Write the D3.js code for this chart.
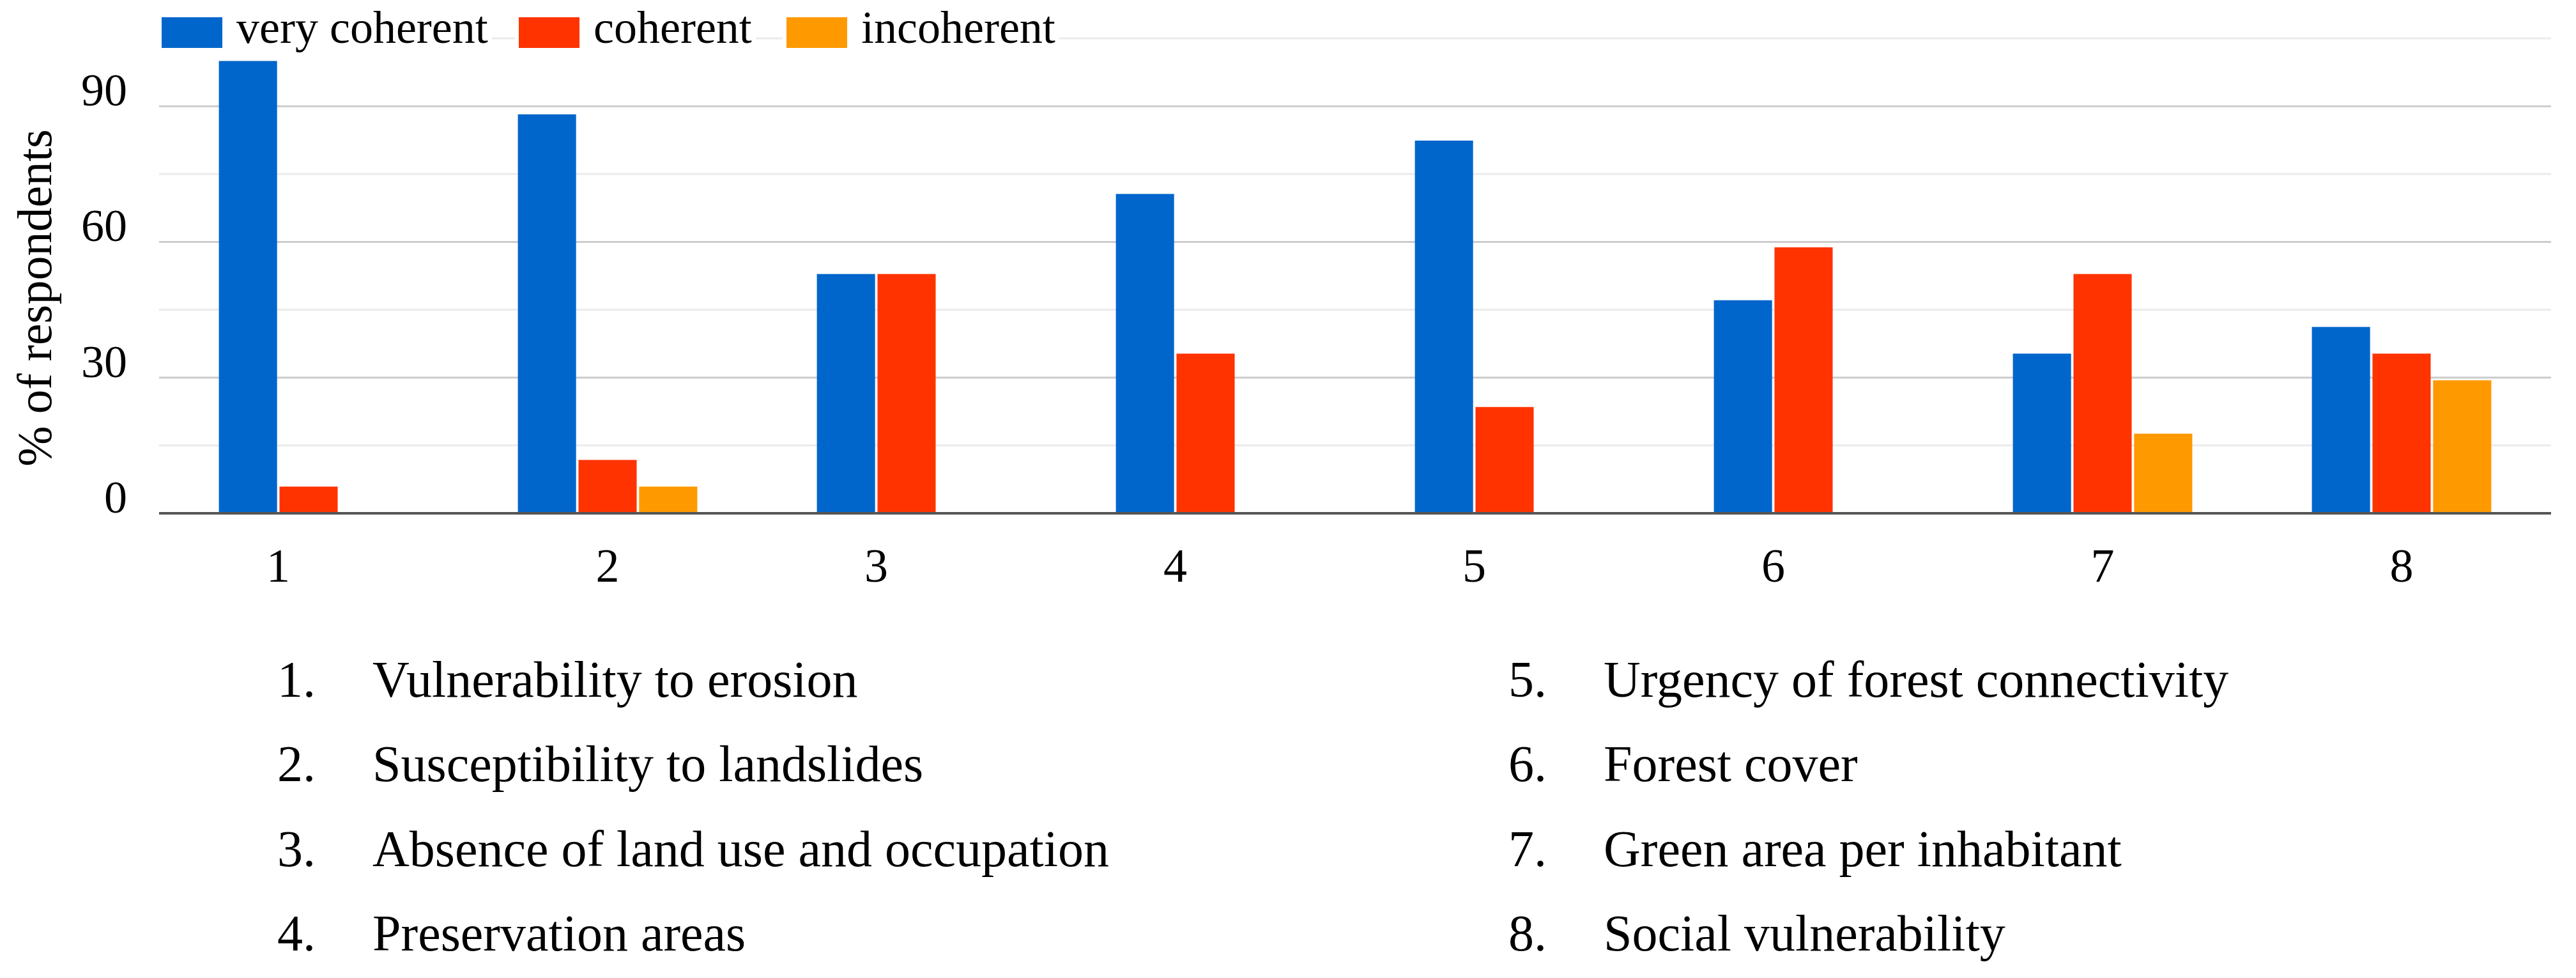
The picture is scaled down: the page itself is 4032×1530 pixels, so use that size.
<!DOCTYPE html>
<html>
<head>
<meta charset="utf-8">
<script src="https://cdn.jsdelivr.net/npm/d3@7"></script>
<style>
  body { margin: 0; background: #fff; }
  svg { display: block; }
  text { font-family: "Liberation Serif", "Times New Roman", serif; fill: #000; }
</style>
</head>
<body>
<div id="chart"></div>
<script>
// criteria numbers on the x axis
const categories = ["1", "2", "3", "4", "5", "6", "7", "8"];
const seriesNames = ["very coherent", "coherent", "incoherent"];

// % of respondents
const veryCoherent = [100, 88.2, 52.9, 70.6, 82.4, 47.1, 35.3, 41.2];
const coherent     = [5.9, 11.8, 52.9, 35.3, 23.5, 58.8, 52.9, 35.3];
const incoherent   = [0, 5.9, 0, 0, 0, 0, 17.6, 29.4];

const majorTicks = [0, 30, 60, 90];
const minorTicks = [15, 45, 75, 105];

const criteria = [
  "Vulnerability to erosion",
  "Susceptibility to landslides",
  "Absence of land use and occupation",
  "Preservation areas",
  "Urgency of forest connectivity",
  "Forest cover",
  "Green area per inhabitant",
  "Social vulnerability"
];

const seriesValues = [veryCoherent, coherent, incoherent];
const colors = ["#0066cc", "#ff3300", "#ff9900"];

const W = 4032, H = 1530;
const svg = d3.select("#chart").append("svg").attr("width", W).attr("height", H);
svg.append("rect").attr("width", W).attr("height", H).attr("fill", "#fff");

const plot = {left: 249, right: 3993, top: 60, bottom: 803};

const x0 = d3.scaleBand().domain(categories).range([plot.left, plot.right])
    .paddingInner(0.4).paddingOuter(0.2);
const x1 = d3.scaleBand().domain(seriesNames).range([0, x0.bandwidth()]).paddingInner(0.04);
const y = d3.scaleLinear().domain([0, 105]).range([plot.bottom, plot.top]);
const color = d3.scaleOrdinal().domain(seriesNames).range(colors);

// grid
svg.append("g").selectAll("line").data(minorTicks).join("line")
    .attr("x1", plot.left).attr("x2", plot.right)
    .attr("y1", d => y(d)).attr("y2", d => y(d))
    .attr("stroke", "#ebebeb").attr("stroke-width", 3);
svg.append("g").selectAll("line").data(majorTicks.filter(d => d > 0)).join("line")
    .attr("x1", plot.left).attr("x2", plot.right)
    .attr("y1", d => y(d)).attr("y2", d => y(d))
    .attr("stroke", "#cccccc").attr("stroke-width", 3);

// bars
const rows = categories.map((c, i) => ({
  cat: c,
  vals: seriesNames.map((s, j) => ({ key: s, value: seriesValues[j][i] }))
}));

const groups = svg.append("g").selectAll("g").data(rows).join("g")
    .attr("transform", d => "translate(" + x0(d.cat) + ",0)");
groups.selectAll("rect").data(d => d.vals.filter(v => v.value > 0)).join("rect")
    .attr("x", d => x1(d.key))
    .attr("width", x1.bandwidth())
    .attr("y", d => y(d.value))
    .attr("height", d => y(0) - y(d.value))
    .attr("fill", d => color(d.key));

// baseline
svg.append("line").attr("x1", plot.left).attr("x2", plot.right)
    .attr("y1", y(0)).attr("y2", y(0))
    .attr("stroke", "#555").attr("stroke-width", 4);

// y axis labels sit on their gridline
const yAxis = svg.append("g").attr("transform", "translate(" + plot.left + ",0)")
    .call(d3.axisLeft(y).tickValues(majorTicks).tickSize(0).tickPadding(50));
yAxis.select(".domain").remove();
yAxis.selectAll("text")
    .attr("font-family", "Liberation Serif").attr("font-size", 72)
    .attr("dy", "-0.02em").attr("fill", "#000");

svg.append("text")
    .attr("transform", "translate(80,466) rotate(-90)")
    .attr("text-anchor", "middle")
    .attr("font-size", 76)
    .text("% of respondents");

// x axis: each label centred under the bars that are drawn
const xAxis = svg.append("g").attr("transform", "translate(0," + plot.bottom + ")")
    .call(d3.axisBottom(x0).tickSize(0).tickPadding(54));
xAxis.select(".domain").remove();
xAxis.selectAll(".tick")
    .attr("transform", (c, i) => {
      const on = seriesNames.filter((s, j) => seriesValues[j][i] > 0);
      const a = x0(c) + x1(on[0]);
      const b = x0(c) + x1(on[on.length - 1]) + x1.bandwidth();
      return "translate(" + (a + b) / 2 + ",0)";
    });
xAxis.selectAll("text")
    .attr("font-family", "Liberation Serif").attr("font-size", 74).attr("fill", "#000");

// legend
const legendX = [253, 812, 1231];
const legend = svg.append("g").selectAll("g").data(seriesNames).join("g")
    .attr("transform", (d, i) => "translate(" + legendX[i] + ",0)");
legend.append("rect").attr("class", "bg")
    .attr("x", -6).attr("y", 20).attr("height", 70).attr("fill", "#fff");
legend.append("rect")
    .attr("x", 0).attr("y", 27).attr("width", 95).attr("height", 48)
    .attr("fill", d => color(d));
legend.append("text")
    .attr("x", 117).attr("y", 67)
    .attr("font-size", 72)
    .text(d => d);
legend.each(function () {
  const g = d3.select(this);
  const w = g.select("text").node().getComputedTextLength();
  g.select("rect.bg").attr("width", 117 + w + 12);
});

// numbered list of criteria
const list = svg.append("g").selectAll("g").data(criteria).join("g")
    .attr("transform", (d, i) => "translate(" + (i < 4 ? 434 : 2361) + "," + (1090 + (i % 4) * 132.3) + ")");
list.append("text").attr("font-size", 80).text((d, i) => (i + 1) + ".");
list.append("text").attr("x", 149).attr("font-size", 80).text(d => d);
</script>
</body>
</html>
